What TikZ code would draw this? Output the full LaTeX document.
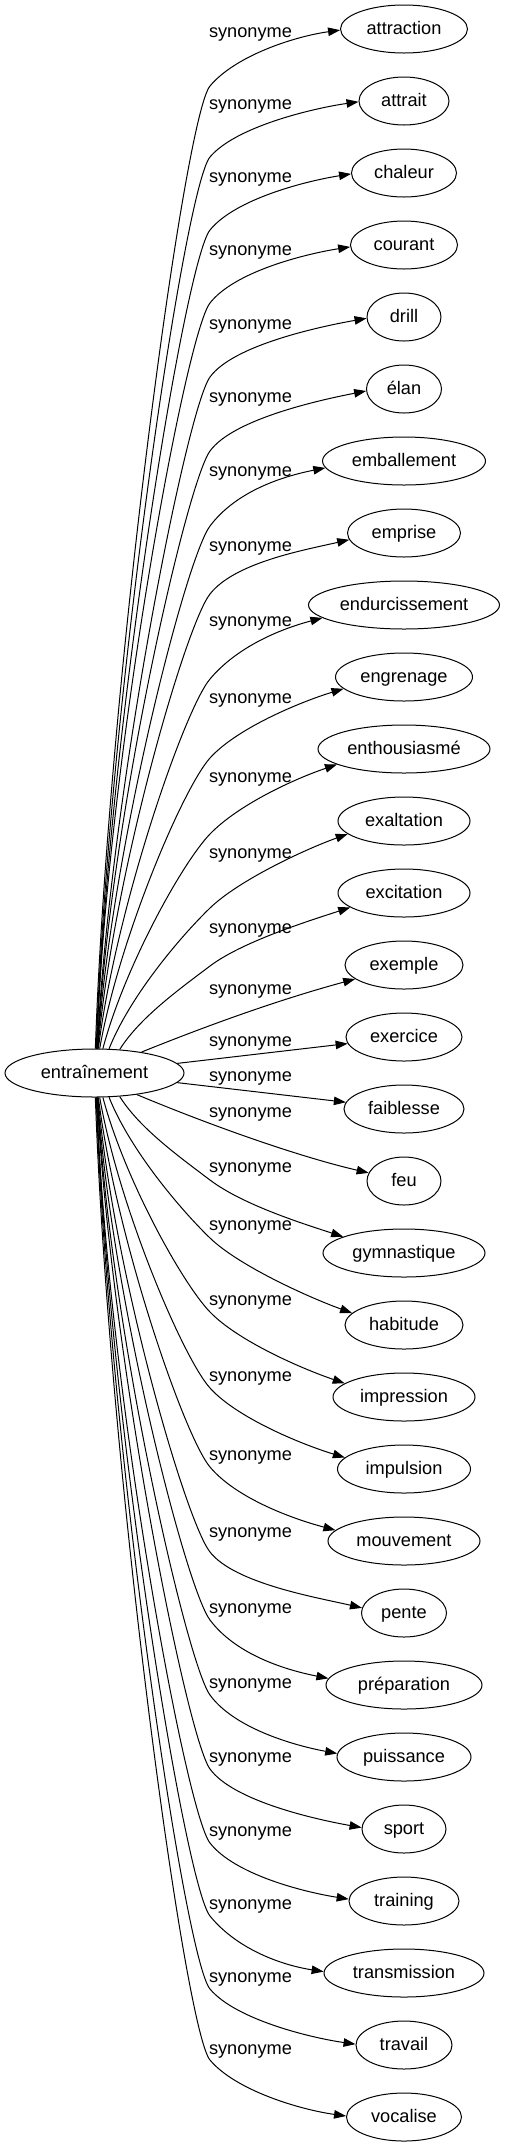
\documentclass[tikz,border=0pt]{standalone}
\usepackage{fontspec}
\setmainfont{Liberation Sans}
\usetikzlibrary{arrows.meta,shapes.geometric}
\tikzset{
  basefont/.style={font=\fontsize{18.2bp}{21bp}\selectfont, inner sep=0pt},
  tnode/.style={basefont, draw, ellipse, minimum height=48bp, text height=13.5bp, text depth=2.5bp, line width=1bp},
  lab/.style={basefont, anchor=base},
  conn/.style={line width=1bp, -{Triangle[length=12bp,width=8.5bp]}},
}
\begin{document}
\begin{tikzpicture}[x=1bp,y=-1bp]
\useasboundingbox (0,0) rectangle (505,2147);
\node[tnode, minimum width=179bp] (e) at (94.5,1073) {entraînement};
\foreach \txt/\w [count=\i from 0] in {attraction/127, attrait/90, chaleur/105, courant/107, drill/74, élan/75, emballement/163, emprise/113, endurcissement/191, engrenage/137, enthousiasmé/172, exaltation/132, excitation/132, exemple/118, exercice/116, faiblesse/120, feu/74, gymnastique/162, habitude/118, impression/142, impulsion/133, mouvement/152, pente/85, préparation/156, puissance/134, sport/84, training/110, transmission/160, travail/96, vocalise/115}{
  \node[tnode, minimum width=\w bp] (t\i) at (404,29+72*\i) {\txt};
  \expandafter\xdef\csname Wd\i\endcsname{\w}
}
\foreach \L [count=\i from 0] in {33,105,178,251,325,398,472,547,622,699,778,854,929,990,1042,1077,1113,1168,1226,1301,1377,1456,1533,1609,1684,1758,1832,1905,1978,2050}{
  \node[lab] (l\i) at (250.5,\L+4.5) {synonyme};
}
\foreach \i/\Ay/\tA/\bt/\alp/\dx/\ps/\sg in {
 0/86/50/1/8/1/88/1, 1/157/50/1/8/1.5/88/1, 2/230/51/1/9/2/88/1, 3/303/52/2/9/2/88/1,
 4/377/54/2/10/2.5/87/1, 5/451/54/3/11/3/87/1, 6/526/53/5/12/3/86/1, 7/594/52/7/13/3.5/85/1,
 8/679/50/9/15/4/83/1, 9/758/48/11/17/5/80/1, 10/834/46/13/19/8/75/1, 11/908/44/13/20/14/68/1,
 12/966/37/15/18/25/58/1,
 17/1180/37/15/18/25/58/-1, 18/1238/44/13/20/14/68/-1, 19/1312/46/13/19/8/75/-1,
 20/1388/48/11/17/5/80/-1, 21/1467/50/9/15/4/83/-1, 22/1552/52/7/13/3.5/85/-1,
 23/1620/53/5/12/3/86/-1, 24/1695/54/3/11/3/87/-1, 25/1769/54/2/10/2.5/87/-1,
 26/1843/52/2/9/2/88/-1, 27/1916/51/1/9/2/88/-1, 28/1989/50/1/8/1.5/88/-1, 29/2060/50/1/8/1/88/-1}{
  \pgfmathsetmacro\Y{29+72*\i}
  \pgfmathsetmacro\Sx{94.5+\dx}
  \pgfmathsetmacro\Sh{24*sqrt(1-(\dx/89.5)^2)}
  \pgfmathsetmacro\Sy{1073-(\sg)*\Sh}
  \pgfmathtruncatemacro\phs{(\sg)*round(atan2(\Sh,\dx))}
  \pgfmathsetmacro\kk{0.38*abs(\Ay-\Sy)/sin(\ps)}
  \pgfmathsetmacro\cax{\Sx+\kk*cos(\ps)}
  \pgfmathsetmacro\cay{\Sy-(\sg)*\kk*sin(\ps)}
  \pgfmathsetmacro\cbx{210-40*cos(\tA)}
  \pgfmathsetmacro\cby{\Ay+(\sg)*40*sin(\tA)}
  \pgfmathsetmacro\ccx{210+40*cos(\tA)}
  \pgfmathsetmacro\ccy{\Ay-(\sg)*40*sin(\tA)}
  \pgfmathsetmacro\ha{\csname Wd\i\endcsname/2}
  \pgfmathsetmacro\rr{1/sqrt((cos(\bt)/\ha)^2+(sin(\bt)/24)^2)}
  \pgfmathsetmacro\Tx{404-\rr*cos(\bt)}
  \pgfmathsetmacro\Ty{\Y+(\sg)*\rr*sin(\bt)}
  \pgfmathsetmacro\cdx{\Tx-45*cos(\alp)}
  \pgfmathsetmacro\cdy{\Ty+(\sg)*45*sin(\alp)}
  \pgfmathtruncatemacro\pht{180+(\sg)*\bt}
  \draw[conn] (e.\phs) .. controls (\cax,\cay) and (\cbx,\cby) .. (210,\Ay)
     .. controls (\ccx,\ccy) and (\cdx,\cdy) .. (t\i.\pht);
}
\draw[conn] (e.24) .. controls (216,1022) and (285,998) .. (t13.196);
\draw[conn] (e) -- (t14);
\draw[conn] (e) -- (t15);
\draw[conn] (e.-27) .. controls (212,1126) and (300,1157) .. (t16.167);
\end{tikzpicture}
\end{document}
